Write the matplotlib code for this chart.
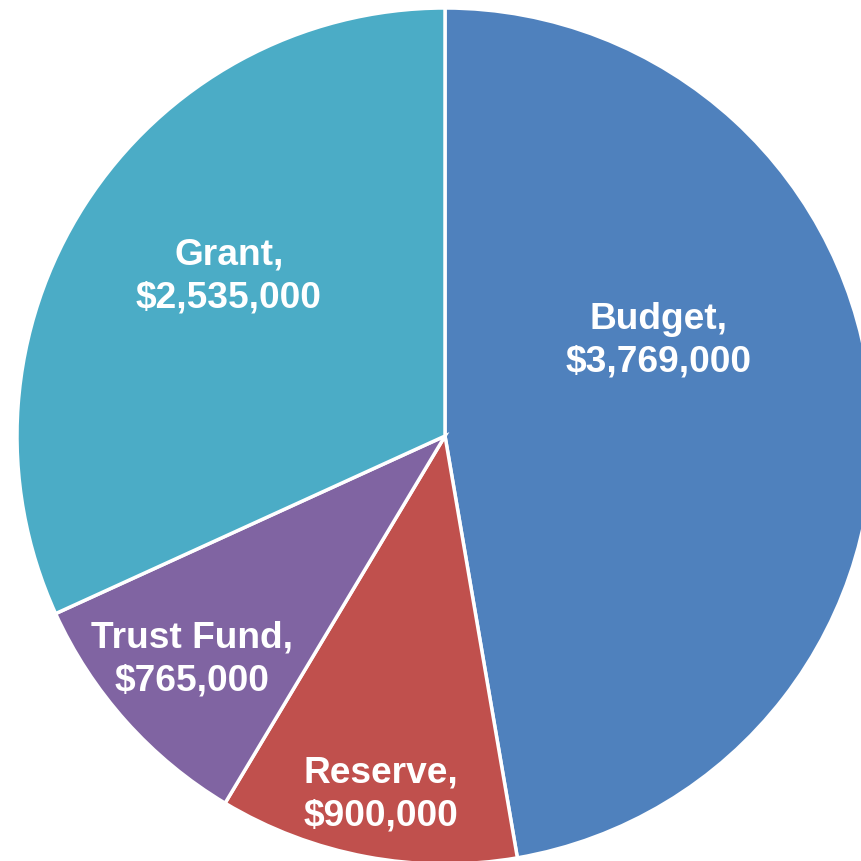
import numpy as np
import matplotlib
matplotlib.use("Agg")
from matplotlib import pyplot as plt

plt.rcParams['font.family'] = ['Liberation Sans', 'DejaVu Sans']

categories = ["Budget", "Reserve", "Trust Fund", "Grant"]
amounts = [3769000, 900000, 765000, 2535000]
colors = ["#4F81BD", "#C0504D", "#8064A2", "#4BACC6"]

# label anchors in units of pie radius, relative to the centre
label_pos = [(0.50, 0.225), (-0.15, -0.835), (-0.59, -0.52), (-0.505, 0.375)]

fig = plt.figure(figsize=(8.61, 8.62), dpi=100)
ax = fig.add_axes([0, 0, 1, 1])

wedges, _ = ax.pie(amounts, colors=colors, startangle=90, counterclock=False,
                   radius=1.0, wedgeprops=dict(edgecolor="white", linewidth=2.5))

for name, val, (x, y) in zip(categories, amounts, label_pos):
    ax.text(x, y, f"{name},\n${val:,.0f}", ha="center", va="center",
            color="white", fontsize=26.7, fontweight="bold", linespacing=1.27)

# centre at (445, 437) px from top-left, radius 428 px
r_px = 428.0
ax.set_xlim(-445 / r_px, (861 - 445) / r_px)
ax.set_ylim(-(862 - 437) / r_px, 437 / r_px)
ax.set_aspect("auto")
ax.axis("off")

fig.savefig("out.png", dpi=100)
